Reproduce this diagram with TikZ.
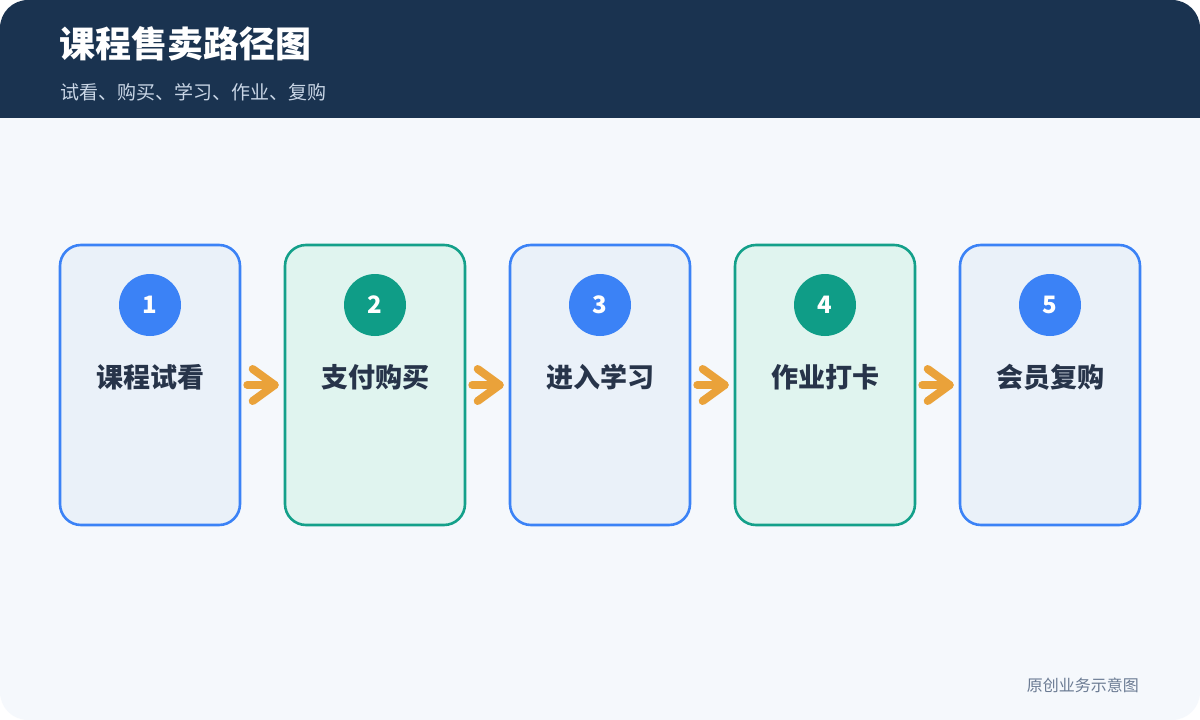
\documentclass[tikz,border=0pt]{standalone}
\usepackage{fontspec}
\setmainfont{Noto Sans CJK SC}
\usetikzlibrary{calc}
\definecolor{hdr}{HTML}{1A3350}
\definecolor{bg}{HTML}{F5F8FC}
\definecolor{subt}{HTML}{C9D6E6}
\definecolor{bluestroke}{HTML}{3B82F6}
\definecolor{bluefill}{HTML}{EAF1F9}
\definecolor{tealstroke}{HTML}{14A08A}
\definecolor{tealfill}{HTML}{E0F4EF}
\definecolor{tealcirc}{HTML}{0F9D87}
\definecolor{labeltext}{HTML}{27344A}
\definecolor{arrowc}{HTML}{EAA23A}
\definecolor{foot}{HTML}{6B7B93}
\tikzset{
  stepbox/.style={rounded corners=21pt, line width=2.6pt, minimum width=180pt, minimum height=280pt, inner sep=0pt},
  bluebox/.style={stepbox, draw=bluestroke, fill=bluefill},
  tealbox/.style={stepbox, draw=tealstroke, fill=tealfill},
  numcirc/.style={circle, minimum size=62pt, inner sep=0pt, text=white, font=\fontsize{24}{28}\selectfont\bfseries},
  steplabel/.style={text=labeltext, font=\fontsize{27}{30}\selectfont\bfseries, inner sep=0pt},
  arr/.style={draw=arrowc, line width=8pt, line cap=round, line join=round},
}
\begin{document}
\begin{tikzpicture}[x=1pt,y=-1pt]
\useasboundingbox (0,0) rectangle (1200,720);
\fill[white] (0,0) rectangle (1200,720);
\begin{scope}
\clip[rounded corners=28pt] (0,0) rectangle (1200,720);
\fill[bg] (0,0) rectangle (1200,720);
\fill[hdr] (0,0) rectangle (1200,118);
\end{scope}
\node[anchor=west, text=white, font=\fontsize{36}{40}\selectfont\bfseries, inner sep=0pt] (title) at (59,44) {课程售卖路径图};
\node[anchor=west, text=subt, font=\fontsize{19}{22}\selectfont, inner sep=0pt] (subtitle) at (60,92) {试看、购买、学习、作业、复购};
\node[anchor=east, text=foot, font=\fontsize{16}{18}\selectfont, inner sep=0pt] (footer) at (1139,685) {原创业务示意图};

\node[bluebox] (b1) at (150,385) {};
\node[tealbox] (b2) at (375,385) {};
\node[bluebox] (b3) at (600,385) {};
\node[tealbox] (b4) at (825,385) {};
\node[bluebox] (b5) at (1050,385) {};

\node[numcirc, fill=bluestroke] (c1) at (150,305) {\raisebox{-1.5pt}{1}};
\node[numcirc, fill=tealcirc] (c2) at (375,305) {\raisebox{-1.5pt}{2}};
\node[numcirc, fill=bluestroke] (c3) at (600,305) {\raisebox{-1.5pt}{3}};
\node[numcirc, fill=tealcirc] (c4) at (825,305) {\raisebox{-1.5pt}{4}};
\node[numcirc, fill=bluestroke] (c5) at (1050,305) {\raisebox{-1.5pt}{5}};

\node[steplabel] (l1) at (150,377) {课程试看};
\node[steplabel] (l2) at (375,377) {支付购买};
\node[steplabel] (l3) at (600,377) {进入学习};
\node[steplabel] (l4) at (825,377) {作业打卡};
\node[steplabel] (l5) at (1050,377) {会员复购};

\foreach \a/\b in {b1/b2,b2/b3,b3/b4,b4/b5}{
  \path (\b.west) ++(-9,0) coordinate (t\a);
  \draw[arr] (\a.east) ++(6,0) -- (t\a);
  \draw[arr] (t\a) ++(-22,-16) -- (t\a) -- ++(-22,16);
}
\end{tikzpicture}
\end{document}
